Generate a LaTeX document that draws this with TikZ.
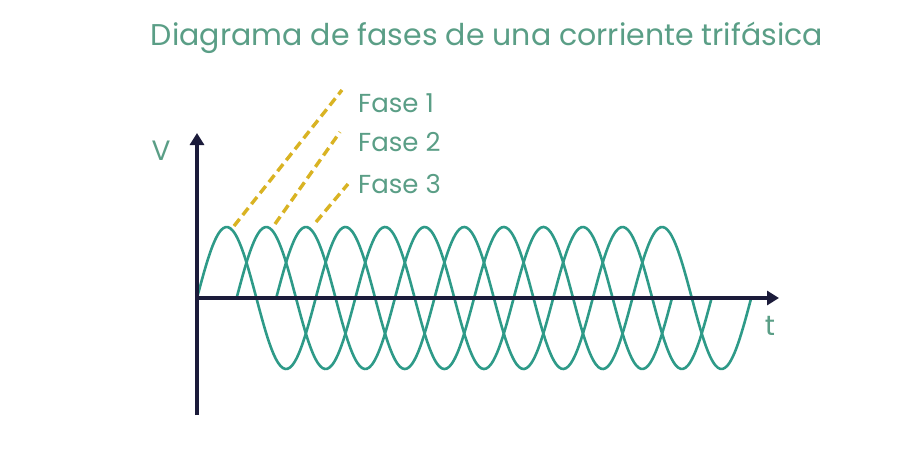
\documentclass[tikz,border=0pt]{standalone}
\usepackage{fontspec}
\setmainfont{Poppins}
\usetikzlibrary{arrows.meta}
\definecolor{tealtext}{HTML}{5A9E86}
\definecolor{wave}{HTML}{2E9A88}
\definecolor{axisblue}{HTML}{1B1B3A}
\definecolor{gold}{HTML}{D9B323}
\tikzset{
  label/.style={text=tealtext,font=\fontsize{26}{28}\selectfont,anchor=west,inner sep=0pt},
  phase/.style={wave,line width=2.6pt},
  pointer/.style={gold,line width=3.4pt,dash pattern=on 9pt off 5pt},
  axisline/.style={axisblue,line width=4pt,-{Triangle[length=12pt,width=14pt]}}
}
\begin{document}
\begin{tikzpicture}[x=1pt,y=-1pt]
		\useasboundingbox (0,0) rectangle (919,451);
		\node[text=tealtext,font=\fontsize{30}{32}\selectfont] (title) at (487,38) {Diagrama de fases de una corriente trifásica};
		% waves
		\foreach \s in {0,39.6,79.2}
			\draw[phase,domain=0:475,samples=200,smooth] plot ({197+\s+\x},{298-71*sin(\x/118.75*360)});
		% axes
		\coordinate (o) at (197,298);
		\coordinate (vtop) at (197,133);
		\coordinate (vbot) at (197,415);
		\coordinate (tend) at (779,298);
		\draw[axisline] (vbot) -- (vtop);
		\draw[axisline] (o) -- (tend);
		\node[text=tealtext,font=\fontsize{28}{30}\selectfont] (v) at (161,151) {V};
		\node[text=tealtext,font=\fontsize{28}{30}\selectfont] (t) at (770,326) {t};
		% phase labels
		\node[label] (f1) at (358,103) {Fase 1};
		\node[label] (f2) at (358,142) {Fase 2};
		\node[label] (f3) at (358,184) {Fase 3};
		\coordinate (p1) at (234,226);
		\coordinate (p2) at (275,224);
		\coordinate (p3) at (316,222);
		\draw[pointer] (p1) -- ([xshift=-16pt,yshift=13pt]f1.west);
		\draw[pointer] (p2) -- ([xshift=-18pt,yshift=10pt]f2.west);
		\draw[pointer] (p3) -- ([xshift=-10pt]f3.west);
\end{tikzpicture}
\end{document}
